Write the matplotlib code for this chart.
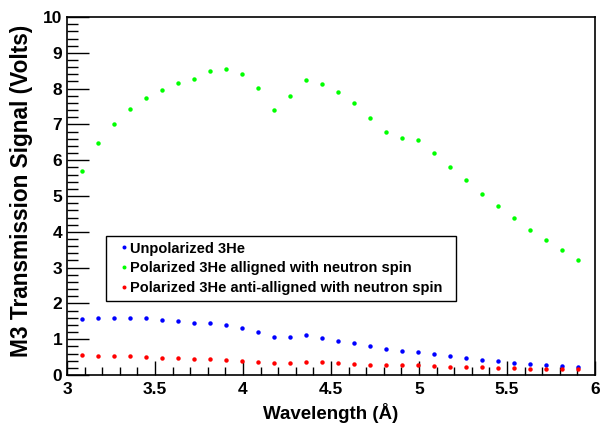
import matplotlib
matplotlib.use("Agg")
import matplotlib.pyplot as plt
from matplotlib.ticker import MultipleLocator

# wavelength bins (Angstrom)
wavelength = [3.085, 3.176, 3.267, 3.358, 3.449, 3.540, 3.631, 3.722,
              3.813, 3.904, 3.995, 4.086, 4.177, 4.268, 4.359, 4.450,
              4.540, 4.631, 4.722, 4.813, 4.904, 4.995, 5.086, 5.177,
              5.268, 5.359, 5.450, 5.540, 5.631, 5.722, 5.813, 5.903]

# M3 signal (Volts)
unpolarized = [1.56, 1.59, 1.60, 1.60, 1.58, 1.55, 1.51, 1.46,
               1.44, 1.39, 1.31, 1.20, 1.06, 1.06, 1.11, 1.04,
               0.96, 0.89, 0.80, 0.72, 0.68, 0.65, 0.60, 0.54,
               0.47, 0.43, 0.38, 0.34, 0.31, 0.27, 0.25, 0.22]
aligned = [5.71, 6.47, 7.01, 7.43, 7.75, 7.97, 8.16, 8.28,
           8.48, 8.55, 8.40, 8.01, 7.39, 7.79, 8.24, 8.14,
           7.91, 7.59, 7.19, 6.78, 6.63, 6.57, 6.20, 5.81,
           5.44, 5.06, 4.71, 4.39, 4.06, 3.78, 3.49, 3.21]
anti_aligned = [0.55, 0.54, 0.54, 0.52, 0.50, 0.48, 0.47, 0.46,
                0.45, 0.42, 0.40, 0.37, 0.34, 0.34, 0.36, 0.35,
                0.33, 0.31, 0.29, 0.28, 0.27, 0.27, 0.25, 0.23,
                0.22, 0.21, 0.20, 0.19, 0.17, 0.17, 0.16, 0.16]

labels = ["Unpolarized 3He",
          "Polarized 3He alligned with neutron spin",
          "Polarized 3He anti-alligned with neutron spin"]

plt.rcParams['font.family'] = ['Liberation Sans', 'DejaVu Sans']
plt.rcParams['font.weight'] = 'bold'

fig = plt.figure(figsize=(6.01, 4.26), dpi=100)
ax = fig.add_axes([0.1115, 0.1197, 0.8785, 0.8403])

ax.plot(wavelength, unpolarized, 'o', color=(0, 0, 1), markersize=3.2, markeredgewidth=0, label=labels[0])
ax.plot(wavelength, aligned, 'o', color=(0, 1, 0), markersize=3.2, markeredgewidth=0, label=labels[1])
ax.plot(wavelength, anti_aligned, 'o', color=(1, 0, 0), markersize=3.2, markeredgewidth=0, label=labels[2])

ax.set_xlim(3, 6)
ax.set_ylim(0, 10)
ax.xaxis.set_major_locator(MultipleLocator(0.5))
ax.xaxis.set_minor_locator(MultipleLocator(0.1))
ax.yaxis.set_major_locator(MultipleLocator(1))
ax.yaxis.set_minor_locator(MultipleLocator(0.2))
ax.xaxis.set_major_formatter(plt.FuncFormatter(lambda v, p: "%g" % v))
ax.yaxis.set_major_formatter(plt.FuncFormatter(lambda v, p: "%g" % v))

ax.tick_params(axis='x', which='major', direction='in', length=10, width=1, labelsize=12.5, pad=5)
ax.tick_params(axis='x', which='minor', direction='in', length=6, width=1)
ax.tick_params(axis='y', which='major', direction='in', length=16, width=1, labelsize=12.5, pad=3.5)
ax.tick_params(axis='y', which='minor', direction='in', length=8, width=1)
for s in ax.spines.values():
    s.set_linewidth(1.2)

ax.set_xlabel("Wavelength (Å)", fontsize=13.5, fontweight='bold', labelpad=4)
ax.set_ylabel("M3 Transmission Signal (Volts)", fontsize=16.3, fontweight='bold')
ax.yaxis.set_label_coords(-0.064, 0.515)

leg = ax.legend(loc='center', bbox_to_anchor=(0.176, 0.296, 0.582, 0.148),
                bbox_transform=fig.transFigure, mode='expand', fontsize=10.5,
                fancybox=False, edgecolor='black', framealpha=1,
                handlelength=1.67, handletextpad=-0.42, borderaxespad=0,
                labelspacing=0.4, markerscale=0.9)
leg.get_frame().set_linewidth(1)

fig.savefig("out.png", dpi=100)
